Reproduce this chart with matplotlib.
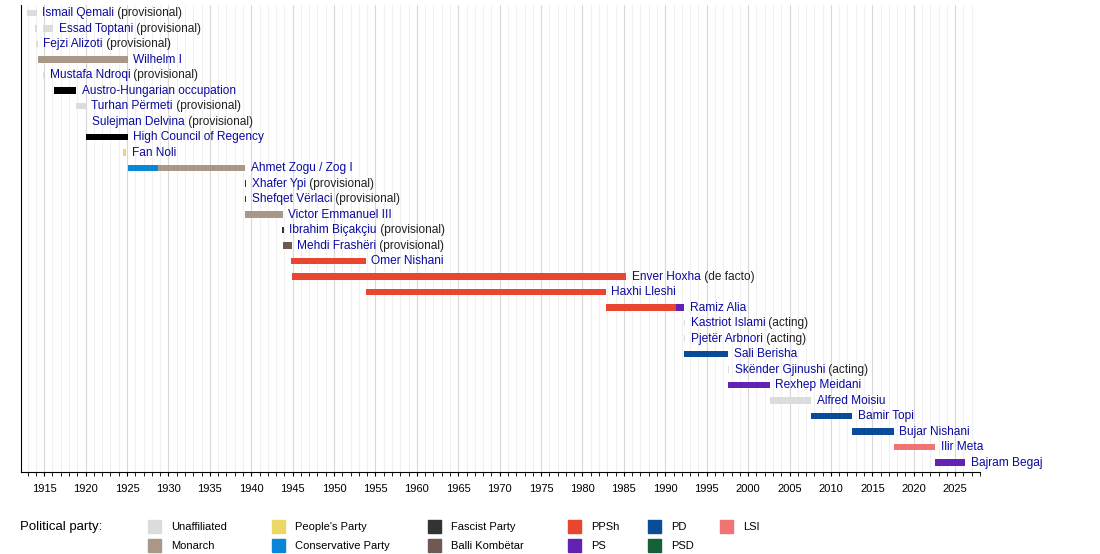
import matplotlib
matplotlib.use("Agg")
import matplotlib.pyplot as plt
from matplotlib.patches import Rectangle

plt.rcParams['font.family'] = ['Liberation Sans', 'DejaVu Sans']

colors = {
    "Unaffiliated": "#dcdcdc", "Monarch": "#a99888", "People's Party": "#ecd866",
    "Conservative Party": "#0a86d8", "Fascist Party": "#333333", "Balli Kombëtar": "#6e5a52",
    "PPSh": "#e8462e", "PS": "#6422b4", "PD": "#0a4c98", "PSD": "#16603a", "LSI": "#f07474",
    "Occupation": "#000000",
}

names = ["Ismail Qemali", "Essad Toptani", "Fejzi Alizoti", "Wilhelm I", "Mustafa Ndroqi",
         "Austro-Hungarian occupation", "Turhan Përmeti", "Sulejman Delvina", "High Council of Regency",
         "Fan Noli", "Ahmet Zogu / Zog I", "Xhafer Ypi", "Shefqet Vërlaci", "Victor Emmanuel III",
         "Ibrahim Biçakçiu", "Mehdi Frashëri", "Omer Nishani", "Enver Hoxha", "Haxhi Lleshi",
         "Ramiz Alia", "Kastriot Islami", "Pjetër Arbnori", "Sali Berisha", "Skënder Gjinushi",
         "Rexhep Meidani", "Alfred Moisiu", "Bamir Topi", "Bujar Nishani", "Ilir Meta", "Bajram Begaj"]
suffixes = ["(provisional)", "(provisional)", "(provisional)", "", "(provisional)", "",
            "(provisional)", "(provisional)", "", "", "", "(provisional)", "(provisional)", "",
            "(provisional)", "(provisional)", "", "(de facto)", "", "", "(acting)", "(acting)", "",
            "(acting)", "", "", "", "", "", ""]
terms = [
    [(1912.9, 1914.1, "Unaffiliated")],
    [(1913.9, 1914.1, "Unaffiliated"), (1914.8, 1916.1, "Unaffiliated")],
    [(1914.05, 1914.2, "Unaffiliated")],
    [(1914.2, 1925.1, "Monarch")],
    [(1914.9, 1915.0, "Unaffiliated")],
    [(1916.2, 1918.9, "Occupation")],
    [(1918.9, 1920.0, "Unaffiliated")],
    [(1920.0, 1920.1, "Unaffiliated")],
    [(1920.0, 1925.1, "Occupation")],
    [(1924.5, 1924.9, "People's Party")],
    [(1925.1, 1928.7, "Conservative Party"), (1928.7, 1939.3, "Monarch")],
    [(1939.25, 1939.4, "Fascist Party")],
    [(1939.25, 1939.4, "Fascist Party")],
    [(1939.3, 1943.8, "Monarch")],
    [(1943.75, 1943.9, "Fascist Party")],
    [(1943.8, 1944.9, "Balli Kombëtar")],
    [(1944.8, 1953.8, "PPSh")],
    [(1944.9, 1985.3, "PPSh")],
    [(1953.8, 1982.8, "PPSh")],
    [(1982.8, 1991.3, "PPSh"), (1991.3, 1992.3, "PS")],
    [(1992.3, 1992.4, "Unaffiliated")],
    [(1992.3, 1992.4, "Unaffiliated")],
    [(1992.3, 1997.6, "PD")],
    [(1997.55, 1997.7, "Unaffiliated")],
    [(1997.6, 2002.6, "PS")],
    [(2002.6, 2007.6, "Unaffiliated")],
    [(2007.6, 2012.6, "PD")],
    [(2012.6, 2017.6, "PD")],
    [(2017.6, 2022.6, "LSI")],
    [(2022.6, 2026.2, "PS")],
]
legend_parties = [["Unaffiliated", "Monarch"], ["People's Party", "Conservative Party"],
                  ["Fascist Party", "Balli Kombëtar"], ["PPSh", "PS"], ["PD", "PSD"], ["LSI"]]

W, H = 1100, 554
fig = plt.figure(figsize=(W/100, H/100), dpi=100)
ax = fig.add_axes([21/W, 1-472/H, (980-21)/W, (472-5)/H])
ax.set_xlim(1912.2, 2028.0)
ax.set_ylim(29.61, -0.516)

for yr in range(1913, 2029):
    ax.axvline(yr, color="#f0f0f0" if yr % 5 else "#d8d8d8", lw=0.8, zorder=0)

for i, (nm, sf, segs) in enumerate(zip(names, suffixes, terms)):
    for s, e, p in segs:
        ax.barh(i, e - s, left=s, height=0.42, color=colors[p], zorder=2)
    end = max(e for _, e, _ in segs)
    t = ax.annotate(nm, (end, i), xytext=(4, 0), textcoords="offset points",
                    va="center", ha="left", fontsize=8.6, color="#0a0aa0", zorder=3)
    if sf:
        ax.annotate(" " + sf, xy=(1, 0.5), xycoords=t, va="center", ha="left",
                    fontsize=8.6, color="#202020")

for sp in ["top", "right"]:
    ax.spines[sp].set_visible(False)
ax.set_yticks([])
ax.set_xticks(range(1915, 2029, 5))
ax.set_xticks(range(1913, 2029), minor=True)
ax.tick_params(axis="x", which="both", direction="out", length=3, labelsize=8, pad=6)

fig.text(20/W, 1-527/H, "Political party:", fontsize=9.5, va="center", ha="left")
xs = [148, 272, 428, 568, 648, 720]
ys = [527, 546]
for col, x in zip(legend_parties, xs):
    for row, p in enumerate(col):
        y = ys[row]
        fig.patches.append(Rectangle((x/W, 1-(y+6)/H), 13/W, 13/H, color=colors[p],
                                     transform=fig.transFigure, figure=fig))
        fig.text((x+23)/W, 1-y/H, p, fontsize=8, va="center", ha="left")

fig.savefig("out.png", dpi=100)
